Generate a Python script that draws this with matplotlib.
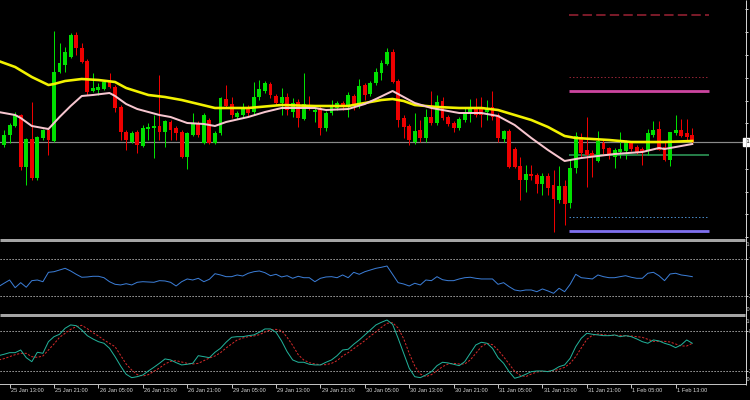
import matplotlib
matplotlib.use("Agg")
import matplotlib.pyplot as plt
import matplotlib.transforms as mtransforms
import numpy as np

plt.rcParams['font.family'] = ['Liberation Sans', 'DejaVu Sans']

# ---------------- data (hourly candles, 25 Jan - 1 Feb) ----------------
opens = [1.2480, 1.2455, 1.2465, 1.2474, 1.2485, 1.2433, 1.2461, 1.2422, 1.2462, 1.2470,
         1.2459, 1.2528, 1.2535, 1.2543, 1.2565, 1.2552, 1.2539, 1.2509, 1.2510, 1.2511,
         1.2518, 1.2513, 1.2493, 1.2468, 1.2458, 1.2468, 1.2454, 1.2471, 1.2472, 1.2474,
         1.2468, 1.2478, 1.2472, 1.2468, 1.2443, 1.2465, 1.2477, 1.2457, 1.2480, 1.2457,
         1.2467, 1.2501, 1.2496, 1.2483, 1.2485, 1.2493, 1.2488, 1.2503, 1.2509, 1.2516,
         1.2504, 1.2497, 1.2503, 1.2488, 1.2498, 1.2481, 1.2495, 1.2488, 1.2492, 1.2472,
         1.2487, 1.2492, 1.2497, 1.2493, 1.2504, 1.2494, 1.2515, 1.2506, 1.2517, 1.2527,
         1.2536, 1.2548, 1.2519, 1.2482, 1.2474, 1.2458, 1.2470, 1.2462, 1.2483, 1.2477,
         1.2499, 1.2483, 1.2477, 1.2472, 1.2480, 1.2486, 1.2492, 1.2493, 1.2488, 1.2493,
         1.2485, 1.2461, 1.2469, 1.2451, 1.2434, 1.2420, 1.2426, 1.2425, 1.2416, 1.2424,
         1.2415, 1.2400, 1.2414, 1.2397, 1.2432, 1.2463, 1.2450, 1.2447, 1.2439, 1.2457,
         1.2452, 1.2443, 1.2448, 1.2449, 1.2457, 1.2453, 1.2451, 1.2449, 1.2465, 1.2471,
         1.2453, 1.2440, 1.2467, 1.2470, 1.2467, 1.2465]
highs = [1.2482, 1.2470, 1.2477, 1.2488, 1.2486, 1.2462, 1.2498, 1.2464, 1.2471, 1.2472,
         1.2569, 1.2557, 1.2553, 1.2567, 1.2568, 1.2557, 1.2541, 1.2527, 1.2517, 1.2520,
         1.2527, 1.2515, 1.2495, 1.2470, 1.2469, 1.2470, 1.2475, 1.2477, 1.2485, 1.2525,
         1.2480, 1.2480, 1.2474, 1.2470, 1.2468, 1.2487, 1.2479, 1.2487, 1.2482, 1.2469,
         1.2503, 1.2515, 1.2503, 1.2489, 1.2497, 1.2495, 1.2518, 1.2520, 1.2519, 1.2518,
         1.2506, 1.2512, 1.2507, 1.2502, 1.2501, 1.2527, 1.2504, 1.2492, 1.2494, 1.2489,
         1.2500, 1.2499, 1.2499, 1.2508, 1.2506, 1.2521, 1.2517, 1.2519, 1.2532, 1.2540,
         1.2552, 1.2551, 1.2521, 1.2485, 1.2476, 1.2487, 1.2480, 1.2491, 1.2509, 1.2505,
         1.2503, 1.2485, 1.2479, 1.2483, 1.2493, 1.2501, 1.2502, 1.2503, 1.2500, 1.2509,
         1.2487, 1.2470, 1.2471, 1.2453, 1.2443, 1.2435, 1.2435, 1.2427, 1.2427, 1.2427,
         1.2430, 1.2434, 1.2420, 1.2441, 1.2468, 1.2467, 1.2483, 1.2450, 1.2469, 1.2460,
         1.2453, 1.2452, 1.2468, 1.2460, 1.2459, 1.2455, 1.2453, 1.2471, 1.2479, 1.2479,
         1.2458, 1.2468, 1.2485, 1.2481, 1.2481, 1.2472]
lows = [1.2455, 1.2453, 1.2457, 1.2473, 1.2430, 1.2415, 1.2420, 1.2420, 1.2460, 1.2445,
        1.2458, 1.2527, 1.2528, 1.2542, 1.2545, 1.2537, 1.2505, 1.2508, 1.2505, 1.2510,
        1.2512, 1.2488, 1.2460, 1.2450, 1.2457, 1.2447, 1.2453, 1.2460, 1.2442, 1.2460,
        1.2453, 1.2460, 1.2460, 1.2442, 1.2431, 1.2464, 1.2463, 1.2456, 1.2456, 1.2456,
        1.2465, 1.2492, 1.2482, 1.2481, 1.2483, 1.2484, 1.2485, 1.2500, 1.2507, 1.2502,
        1.2495, 1.2485, 1.2485, 1.2483, 1.2473, 1.2480, 1.2490, 1.2478, 1.2465, 1.2469,
        1.2485, 1.2490, 1.2490, 1.2483, 1.2490, 1.2492, 1.2500, 1.2504, 1.2515, 1.2520,
        1.2535, 1.2517, 1.2473, 1.2462, 1.2455, 1.2456, 1.2458, 1.2458, 1.2475, 1.2475,
        1.2480, 1.2474, 1.2468, 1.2470, 1.2478, 1.2478, 1.2483, 1.2473, 1.2480, 1.2480,
        1.2458, 1.2458, 1.2432, 1.2432, 1.2400, 1.2408, 1.2420, 1.2407, 1.2405, 1.2405,
        1.2368, 1.2397, 1.2375, 1.2392, 1.2427, 1.2443, 1.2413, 1.2423, 1.2438, 1.2446,
        1.2441, 1.2432, 1.2442, 1.2441, 1.2449, 1.2446, 1.2435, 1.2445, 1.2463, 1.2450,
        1.2439, 1.2434, 1.2465, 1.2463, 1.2460, 1.2457]
closes = [1.2458, 1.2465, 1.2475, 1.2485, 1.2433, 1.2461, 1.2422, 1.2463, 1.2470, 1.2460,
          1.2528, 1.2537, 1.2548, 1.2565, 1.2552, 1.2538, 1.2508, 1.2512, 1.2513, 1.2518,
          1.2513, 1.2492, 1.2468, 1.2460, 1.2467, 1.2455, 1.2472, 1.2473, 1.2474, 1.2468,
          1.2479, 1.2470, 1.2467, 1.2443, 1.2467, 1.2477, 1.2465, 1.2485, 1.2457, 1.2467,
          1.2502, 1.2494, 1.2485, 1.2487, 1.2492, 1.2487, 1.2503, 1.2511, 1.2517, 1.2505,
          1.2497, 1.2503, 1.2490, 1.2497, 1.2482, 1.2496, 1.2492, 1.2490, 1.2472, 1.2487,
          1.2493, 1.2497, 1.2493, 1.2505, 1.2494, 1.2514, 1.2505, 1.2517, 1.2528, 1.2537,
          1.2548, 1.2518, 1.2480, 1.2473, 1.2460, 1.2469, 1.2462, 1.2483, 1.2477, 1.2498,
          1.2482, 1.2476, 1.2472, 1.2481, 1.2487, 1.2493, 1.2485, 1.2485, 1.2491, 1.2483,
          1.2462, 1.2469, 1.2433, 1.2433, 1.2420, 1.2426, 1.2424, 1.2416, 1.2424, 1.2412,
          1.2401, 1.2414, 1.2396, 1.2432, 1.2464, 1.2447, 1.2445, 1.2443, 1.2459, 1.2451,
          1.2446, 1.2450, 1.2451, 1.2457, 1.2451, 1.2448, 1.2449, 1.2467, 1.2470, 1.2450,
          1.2440, 1.2468, 1.2470, 1.2464, 1.2463, 1.2458]

# moving averages (read at candle indices)
ma_slow_idx = [0, 3, 6, 9, 10, 12, 15, 18, 21, 23, 27, 30, 33, 36, 39, 42, 45, 51, 57, 63,
               66, 69, 71, 73, 75, 79, 83, 87, 90, 93, 96, 99, 102, 104, 110, 114, 120, 125]
ma_slow = [1.2539, 1.2533, 1.2523, 1.2515, 1.2516, 1.2519, 1.2521, 1.2520, 1.2518, 1.2512,
           1.2505, 1.2503, 1.2500, 1.2496, 1.2492, 1.2492, 1.2492, 1.2495, 1.2494, 1.2494,
           1.2497, 1.2500, 1.2501, 1.2499, 1.2495, 1.2493, 1.2492, 1.2492, 1.2490, 1.2485,
           1.2480, 1.2473, 1.2464, 1.2462, 1.2460, 1.2458, 1.2458, 1.2459]
ma_fast_idx = [0, 3, 4, 6, 9, 11, 13, 15, 17, 20, 21, 23, 25, 29, 31, 34, 37, 39, 41, 45,
               48, 51, 57, 59, 63, 66, 68, 71, 72, 75, 78, 83, 87, 90, 93, 96, 99, 102, 104,
               105, 111, 116, 119, 120, 123, 125]
ma_fast = [1.2488, 1.2485, 1.2482, 1.2474, 1.2471, 1.2483, 1.2494, 1.2504, 1.2505, 1.2507,
           1.2504, 1.2496, 1.2491, 1.2485, 1.2483, 1.2477, 1.2476, 1.2474, 1.2478, 1.2483,
           1.2488, 1.2492, 1.2492, 1.2490, 1.2491, 1.2496, 1.2501, 1.2509, 1.2506, 1.2497,
           1.2492, 1.2487, 1.2487, 1.2484, 1.2475, 1.2462, 1.2450, 1.2439, 1.2441, 1.2442,
           1.2446, 1.2448, 1.2452, 1.2451, 1.2454, 1.2456]

bid_price = 1.2458
level_prices = [1.2585, 1.2523, 1.2509, 1.2445, 1.2383, 1.2369]

price_ticks = [1.25907, 1.25679, 1.25451, 1.25223, 1.24995, 1.24767,
               1.24539, 1.24311, 1.24083, 1.23855, 1.23627]

rsi = [37.6, 42.2, 46.6, 36.2, 43.0, 36.8, 45.7, 46.6, 44.3, 57.0,
       57.8, 60.1, 62.4, 58.8, 54.3, 50.3, 50.7, 51.6, 51.6, 49.7,
       44.3, 40.8, 39.9, 41.6, 39.9, 43.5, 44.3, 43.9, 43.5, 45.7,
       45.3, 43.5, 38.5, 44.3, 48.0, 46.6, 48.9, 44.3, 47.6, 55.1,
       53.4, 51.1, 51.1, 53.4, 52.0, 55.7, 57.8, 58.8, 56.5, 52.4,
       54.3, 50.7, 52.4, 48.9, 51.6, 49.7, 49.7, 44.3, 48.9, 50.7,
       51.1, 49.7, 53.4, 49.7, 57.0, 54.3, 57.8, 60.1,
       62.4, 63.8, 65.5, 54.3, 43.0, 41.2, 38.5, 42.2, 39.9, 46.6,
       45.7, 51.1, 47.0, 45.7, 45.7, 48.0, 49.7, 50.3, 48.9, 48.0,
       48.0, 48.0, 40.8, 43.0, 37.6, 33.1, 31.8, 33.1, 33.1, 30.8,
       34.5, 31.8, 28.6, 35.4, 30.8, 40.8, 54.3, 49.7, 48.9, 48.0,
       53.4, 51.1, 49.7, 49.7, 51.1, 52.4, 50.3, 48.9, 48.9, 55.7,
       57.0, 52.4, 45.7, 54.7, 55.7, 53.4, 52.4, 51.1]
rsi_levels = [75, 25]

stoch_k = [42.5, 44.6, 47.0, 47.0, 51.0, 39.5, 33.5, 47.6, 46.1, 63.5,
           71.0, 74.6, 83.6, 88.6, 87.5, 81.0, 72.5, 67.6, 63.5, 61.1,
           53.6, 41.0, 27.0, 14.6, 9.5, 11.0, 13.5, 19.5, 25.1, 31.1,
           37.6, 36.1, 32.0, 28.6, 29.6, 31.1, 42.5, 41.0, 39.5, 47.6,
           53.6, 62.6, 70.1, 71.0, 71.0, 72.5, 73.6, 77.6, 82.6, 82.6,
           77.6, 64.6, 48.5, 36.1, 32.6, 32.6, 29.6, 28.6, 28.6, 32.6,
           36.1, 42.5, 51.0, 52.1, 59.6, 66.1, 73.6, 81.0,
           88.6, 92.6, 96.0, 89.6, 68.6, 46.1, 23.6, 11.0, 9.5, 13.5,
           18.5, 27.5, 32.6, 31.6, 29.6, 27.5, 33.5, 46.1, 58.6, 62.6,
           61.1, 53.6, 39.5, 31.1, 18.5, 8.6, 11.0, 14.6, 18.5, 19.5,
           19.5, 18.5, 21.0, 26.0, 28.6, 38.6, 56.0, 68.6, 76.1, 74.6,
           73.6, 72.5, 72.5, 73.6, 71.0, 72.5, 71.0, 67.6, 63.5, 61.1,
           66.1, 64.6, 61.1, 58.6, 54.5, 58.6, 66.1, 61.1]
stoch_d = [36, 38, 41, 44, 46, 46, 41, 40, 42, 51,
           60, 70, 76, 82, 86, 88, 83, 77, 72, 66,
           61, 56, 43, 30, 21, 14, 12, 14, 19, 24,
           30, 34, 35, 33, 31, 30, 31, 35, 39, 42,
           47, 54, 60, 66, 69, 71, 72, 74, 78, 81,
           82, 80, 70, 58, 44, 36, 32, 30, 29, 29,
           31, 35, 42, 47, 53, 59, 65, 72,
           78, 85, 91, 92, 84, 68, 46, 27, 15, 11,
           14, 20, 26, 30, 31, 30, 30, 36, 46, 56,
           61, 59, 51, 41, 30, 19, 13, 11, 15, 18,
           19, 19, 20, 22, 25, 31, 41, 54, 67, 73,
           75, 74, 73, 73, 73, 72, 72, 71, 70, 67,
           64, 64, 64, 63, 60, 57, 57, 61]
stoch_levels = [80, 20]

time_tick_idx = [-6, 2, 10, 18, 26, 34, 42, 50, 58, 66, 74, 82, 90, 98, 106, 114, 122]
time_tick_labels = ["25 Jan 05:00", "25 Jan 13:00", "25 Jan 21:00", "26 Jan 05:00",
                    "26 Jan 13:00", "26 Jan 21:00", "29 Jan 05:00", "29 Jan 13:00",
                    "29 Jan 21:00", "30 Jan 05:00", "30 Jan 13:00", "30 Jan 21:00",
                    "31 Jan 05:00", "31 Jan 13:00", "31 Jan 21:00", "1 Feb 05:00",
                    "1 Feb 13:00"]

# ---------------- drawing ----------------
W, H = 750, 400
PX = 0.72  # one pixel in points
fig = plt.figure(figsize=(W / 100, H / 100), dpi=100, facecolor='black')


def rect(x0, y0, x1, y1):
    return [x0 / W, 1 - y1 / H, (x1 - x0) / W, (y1 - y0) / H]


ax = fig.add_axes(rect(0, 0, 745, 238))
ax_rsi = fig.add_axes(rect(0, 241, 745, 313))
ax_sto = fig.add_axes(rect(0, 316, 745, 384))
over = fig.add_axes([0, 0, 1, 1], zorder=10)
over.set_xlim(0, W)
over.set_ylim(H, 0)
over.axis('off')
over.patch.set_alpha(0)

XLIM = (0.27, 134.5)
TXT = '#d8d8d8'
for a in (ax, ax_rsi, ax_sto):
    a.set_facecolor('black')
    a.set_xlim(*XLIM)
    for s in a.spines.values():
        s.set_visible(False)
    a.yaxis.tick_right()
    a.tick_params(axis='y', colors='#cfcfcf', labelcolor=TXT, length=2.2,
                  width=PX, labelsize=4, pad=0.8, direction='out')
    a.tick_params(axis='x', bottom=False, labelbottom=False)

o = np.array(opens)
h = np.array(highs)
l = np.array(lows)
c = np.array(closes)
x = np.arange(len(o))
GREEN, RED = '#00e000', '#ee0000'
col = np.where(c >= o, GREEN, RED)

ax.set_ylim(1.2362, 1.2600)
ax.axhline(bid_price, color='#8a8a8a', lw=PX * 1.2, zorder=1)
ax.vlines(x, l, h, colors=col, lw=PX, zorder=3)
ax.bar(x, np.maximum(np.abs(c - o), 0.00008), bottom=np.minimum(o, c),
       width=0.7, color=col, linewidth=0, zorder=4)
ax.plot(ma_slow_idx, ma_slow, color='#f2f200', lw=2.6 * PX, zorder=5,
        solid_joinstyle='round')
ax.plot(ma_fast_idx, ma_fast, color='#f7c6cf', lw=2.0 * PX, zorder=6,
        solid_joinstyle='round')

lv_style = [dict(color='#8e1f30', ls=(0, (5.5, 2.5)), lw=1.7 * PX),
            dict(color='#8e2233', ls=(0, (1.5, 2.0)), lw=1.0 * PX),
            dict(color='#cc45a0', ls='-', lw=2.8 * PX),
            dict(color='#2a8a50', ls='-', lw=1.8 * PX),
            dict(color='#4684c0', ls=(0, (1.5, 2.0)), lw=1.0 * PX),
            dict(color='#7f70f0', ls='-', lw=2.8 * PX)]
for p, st in zip(level_prices, lv_style):
    ax.hlines(p, 102.8, 128.0, colors=st['color'], linestyles=[st['ls']],
              lw=st['lw'], zorder=2)

ax.set_yticks(price_ticks)
ax.set_yticklabels(['%.5f' % p for p in price_ticks])
ax.text(1.0, bid_price, ' 1.24580', transform=mtransforms.blended_transform_factory(
        ax.transAxes, ax.transData), ha='left', va='center', fontsize=4,
        color='black', clip_on=False, zorder=20,
        bbox=dict(boxstyle='square,pad=0.35', facecolor='white', edgecolor='white'))

# RSI panel
ax_rsi.set_ylim(2.0, 99.3)
ax_rsi.plot(x, rsi, color='#3b7dd6', lw=1.0 * PX, zorder=3)
for lv in rsi_levels:
    ax_rsi.axhline(lv, color='#c8c8c8', ls=(0, (1.2, 1.8)), lw=PX)
ax_rsi.set_yticks(rsi_levels)
ax_rsi.set_yticklabels(['%d' % v for v in rsi_levels])
ax_rsi.text(1.0, 0.945, ' 100', transform=ax_rsi.transAxes, ha='left', va='center',
            fontsize=4, color=TXT, clip_on=False)
ax_rsi.text(1.0, 0.045, ' 0', transform=ax_rsi.transAxes, ha='left', va='center',
            fontsize=4, color=TXT, clip_on=False)

# Stochastic panel
ax_sto.set_ylim(0, 102)
ax_sto.plot(x, stoch_k, color='#22b29a', lw=1.0 * PX, zorder=4)
ax_sto.plot(x, stoch_d, color='#d42a2a', lw=1.0 * PX, ls=(0, (2.2, 1.6)), zorder=3)
for lv in stoch_levels:
    ax_sto.axhline(lv, color='#c8c8c8', ls=(0, (1.2, 1.8)), lw=PX)
ax_sto.set_yticks(stoch_levels)
ax_sto.set_yticklabels(['%d' % v for v in stoch_levels])
ax_sto.text(1.0, 0.916, ' 100', transform=ax_sto.transAxes, ha='left', va='center',
            fontsize=4, color=TXT, clip_on=False)
ax_sto.text(1.0, 0.065, ' 0', transform=ax_sto.transAxes, ha='left', va='center',
            fontsize=4, color=TXT, clip_on=False)

# time axis
ax_sto.spines['bottom'].set_visible(True)
ax_sto.spines['bottom'].set_color('#c0c0c0')
ax_sto.spines['bottom'].set_linewidth(PX)
in_range = [t for t in time_tick_idx if XLIM[0] <= t <= XLIM[1]]
ax_sto.set_xticks(in_range)
ax_sto.tick_params(axis='x', bottom=True, labelbottom=False, length=2.8,
                   width=PX, color='#c0c0c0', direction='out')
tt = mtransforms.blended_transform_factory(ax_sto.transData, over.transData)
for t, lab in zip(time_tick_idx, time_tick_labels):
    ax_sto.text(t + 0.2, 391, lab, transform=tt, ha='left', va='center',
                fontsize=4.1, color=TXT, clip_on=False)

# frame: separators and right border
over.hlines([239.5, 314.5], 0, 745, colors='#a4a4a4', lw=3 * PX)
over.vlines(745.5, 0, 385, colors='#d0d0d0', lw=PX)

fig.savefig('out.png', dpi=100, facecolor='black')
